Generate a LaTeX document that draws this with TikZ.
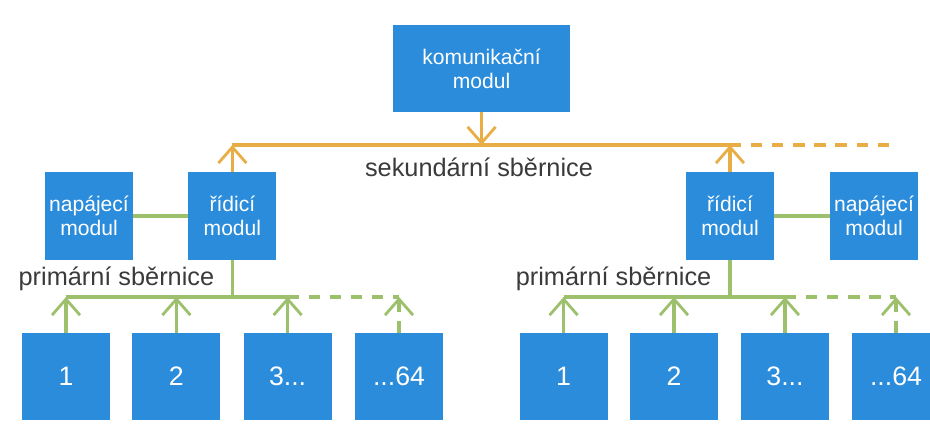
\documentclass[tikz,border=0pt]{standalone}
\usepackage{fontspec}
\setmainfont{Liberation Sans}
\usetikzlibrary{arrows.meta}

\definecolor{boxblue}{HTML}{2A8CDB}
\definecolor{busgreen}{HTML}{9CC06C}
\definecolor{busorange}{HTML}{E8AE45}
\definecolor{labelgray}{HTML}{3A3A3A}

\begin{document}
\begin{tikzpicture}[
  modul/.style={rectangle,fill=boxblue,text=white,minimum width=2.2cm,minimum height=2.2cm,inner sep=0pt,align=center,font=\fontsize{15}{17}\selectfont},
  slot/.style={modul,minimum height=2.175cm,font=\fontsize{19}{21}\selectfont},
  buslabel/.style={text=labelgray,font=\fontsize{18}{20}\selectfont},
  secbus/.style={busorange,line width=2.2pt},
  primbus/.style={busgreen,line width=2.2pt},
  tip/.style={-{Straight Barb[length=4mm,width=7mm,line width=2pt]}},
  more/.style={dash pattern=on 8pt off 7pt}
]

\clip (0,0) rectangle (23.25,-10.625);

% communication module node
\node[modul,minimum width=4.425cm,minimum height=2.175cm] (kom) at (12.04,-1.71) {komunikační\\modul};

% secondary bus
\coordinate (sb kom) at (12.04,-3.625);
\coordinate (sb left) at (5.81,-3.625);
\coordinate (sb right) at (18.25,-3.625);
\coordinate (sb end) at (22.3,-3.625);
\draw[secbus] (sb left) -- (sb right);
\draw[secbus,more] (sb right) -- (sb end);
\node[buslabel] (sb label) at (11.975,-4.175) {sekundární sběrnice};
\draw[secbus,tip] (kom) -- (sb kom);

% left control and power modules
\node[modul] (napL) at (2.225,-5.4) {napájecí\\modul};
\node[modul] (ridL) at (5.81,-5.4) {řídicí\\modul};
\draw[primbus] (napL) -- (ridL);
\draw[secbus,tip] (ridL) -- (sb left);

% right control and power modules
\node[modul] (ridR) at (18.25,-5.4) {řídicí\\modul};
\node[modul] (napR) at (21.85,-5.4) {napájecí\\modul};
\draw[primbus] (napR) -- (ridR);
\draw[secbus,tip] (ridR) -- (sb right);

% left primary bus
\node[buslabel] (pbL label) at (2.91,-6.975) {primární sběrnice};
\coordinate (pbL rid) at (5.81,-7.425);
\coordinate (pbL 1) at (1.65,-7.425);
\coordinate (pbL 2) at (4.41,-7.425);
\coordinate (pbL 3) at (7.19,-7.425);
\coordinate (pbL 4) at (9.975,-7.425);
\draw[primbus] (ridL) -- (pbL rid);
\draw[primbus] (pbL 1) -- (pbL 3);
\draw[primbus,more] (pbL 3) -- (pbL 4);

% left slot nodes
\node[slot] (slL1) at (1.65,-9.41) {1};
\node[slot] (slL2) at (4.41,-9.41) {2};
\node[slot] (slL3) at (7.19,-9.41) {3...};
\node[slot] (slL4) at (9.975,-9.41) {...64};
\draw[primbus,tip] (slL1) -- (pbL 1);
\draw[primbus,tip] (slL2) -- (pbL 2);
\draw[primbus,tip] (slL3) -- (pbL 3);
\draw[primbus,tip,more] (slL4) -- (pbL 4);

% right primary bus
\node[buslabel] (pbR label) at (15.34,-6.975) {primární sběrnice};
\coordinate (pbR rid) at (18.25,-7.425);
\coordinate (pbR 1) at (14.09,-7.425);
\coordinate (pbR 2) at (16.85,-7.425);
\coordinate (pbR 3) at (19.625,-7.425);
\coordinate (pbR 4) at (22.4,-7.425);
\draw[primbus] (ridR) -- (pbR rid);
\draw[primbus] (pbR 1) -- (pbR 3);
\draw[primbus,more] (pbR 3) -- (pbR 4);

% right slot nodes
\node[slot] (slR1) at (14.09,-9.41) {1};
\node[slot] (slR2) at (16.85,-9.41) {2};
\node[slot] (slR3) at (19.625,-9.41) {3...};
\node[slot] (slR4) at (22.4,-9.41) {...64};
\draw[primbus,tip] (slR1) -- (pbR 1);
\draw[primbus,tip] (slR2) -- (pbR 2);
\draw[primbus,tip] (slR3) -- (pbR 3);
\draw[primbus,tip,more] (slR4) -- (pbR 4);

\end{tikzpicture}
\end{document}
